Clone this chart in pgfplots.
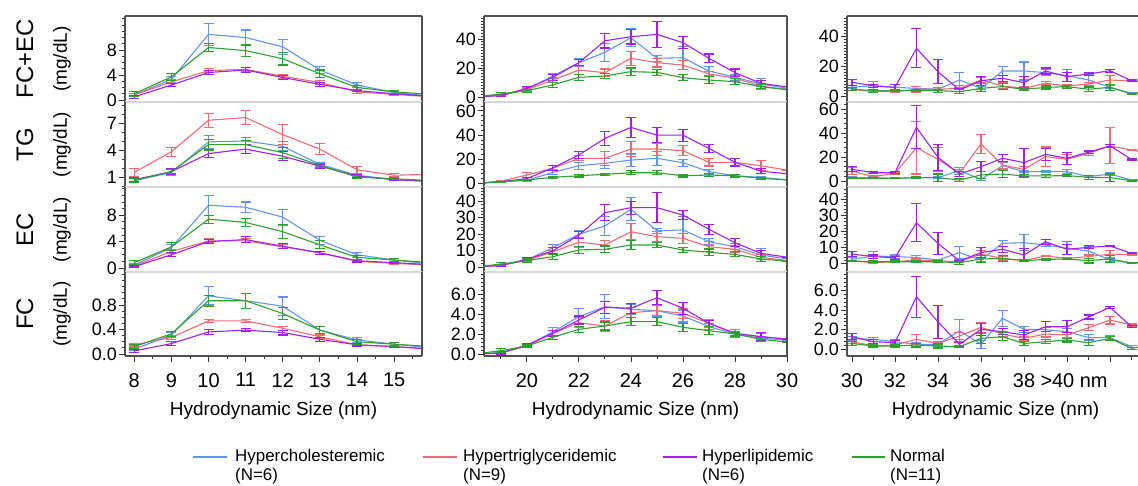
\documentclass[border=0pt]{standalone}
\usepackage{pgfplots}
\pgfplotsset{compat=1.18}
\usepackage{pgfplotstable}
\usepackage{fontspec}
\setmainfont{Liberation Sans}

\definecolor{cB}{RGB}{100,149,237}
\definecolor{cR}{RGB}{236,108,118}
\definecolor{cP}{RGB}{160,32,240}
\definecolor{cG}{RGB}{46,160,46}
\definecolor{spine}{RGB}{80,80,80}
\definecolor{sepc}{RGB}{215,215,215}

% ---------- column 1 (8-15 nm) ----------
\pgfplotstableread{
x b be r re p pe g ge
8 0.8 0.3 0.8 0.2 0.5 0.2 1.0 0.4
9 3.3 0.5 2.9 0.3 2.4 0.3 3.7 0.6
10 10.5 1.8 4.7 0.3 4.4 0.3 8.4 0.7
11 10.0 1.2 4.9 0.3 4.8 0.4 7.9 0.9
12 8.5 1.2 3.8 0.3 3.6 0.3 6.6 1.0
13 4.8 0.5 2.8 0.3 2.5 0.3 4.2 0.6
14 2.4 0.4 1.3 0.2 1.5 0.2 2.0 0.3
15 1.2 0.2 0.9 0.1 1.0 0.1 1.3 0.2
16 0.6 0 0.5 0 0.6 0 0.9 0
}\TAone
\pgfplotstableread{
x b be r re p pe g ge
8 0.6 0.2 1.5 0.4 0.7 0.2 0.6 0.2
9 1.5 0.3 3.8 0.5 1.6 0.3 1.6 0.2
10 4.9 0.7 7.3 0.8 3.6 0.4 4.6 0.6
11 5.0 0.4 7.6 0.8 4.1 0.5 4.6 0.5
12 4.4 0.5 5.7 1.1 3.3 0.5 3.7 0.6
13 2.4 0.2 4.1 0.6 2.2 0.2 2.3 0.2
14 1.2 0.2 1.8 0.4 1.1 0.2 1.0 0.2
15 0.7 0.1 1.2 0.2 0.7 0.1 0.8 0.1
16 0.5 0 1.3 0 0.5 0 0.6 0
}\TAtwo
\pgfplotstableread{
x b be r re p pe g ge
8 0.45 0.2 0.3 0.1 0.2 0.1 0.8 0.3
9 3.1 0.5 2.5 0.3 2.0 0.3 3.2 0.6
10 9.5 1.5 4.1 0.3 4.0 0.3 7.4 0.6
11 9.2 0.8 4.1 0.3 4.3 0.5 6.9 0.6
12 7.7 1.2 3.2 0.3 3.3 0.4 5.5 1.1
13 4.2 0.6 2.3 0.2 2.3 0.2 3.5 0.6
14 2.0 0.4 1.0 0.2 1.1 0.2 1.6 0.3
15 1.2 0.2 0.7 0.1 0.8 0.1 1.2 0.2
16 0.6 0 0.4 0 0.5 0 0.8 0
}\TAthree
\pgfplotstableread{
x b be r re p pe g ge
8 0.08 0.02 0.15 0.02 0.05 0.02 0.12 0.03
9 0.31 0.04 0.27 0.03 0.17 0.03 0.33 0.04
10 0.95 0.15 0.54 0.03 0.36 0.04 0.87 0.09
11 0.87 0.12 0.54 0.03 0.39 0.03 0.87 0.12
12 0.78 0.15 0.42 0.03 0.35 0.04 0.66 0.10
13 0.39 0.06 0.28 0.03 0.24 0.03 0.39 0.06
14 0.23 0.04 0.15 0.02 0.15 0.02 0.20 0.04
15 0.16 0.03 0.12 0.02 0.12 0.02 0.16 0.03
16 0.10 0 0.08 0 0.08 0 0.12 0
}\TAfour

% ---------- column 2 (19-30 nm) ----------
\pgfplotstableread{
x b be r re p pe g ge
18 0 0 0 0 0 0 0 0
19 1.4 0.5 1.0 0.5 1.0 0.5 2.1 1.0
20 5.3 1 5.0 1 6.0 1 4.4 1
21 14.5 2 11.7 1.5 13.6 2 8.3 1.5
22 23.7 2.5 18.6 3 23.7 2 13.6 2
23 30.8 6 16.8 2.5 38.8 5 14.5 2
24 40.9 6 26.7 5 41.6 5 17.5 2.5
25 26.7 2 23.7 3 43.2 9 17.0 2
26 27.1 8 22.0 3 37.5 4 13.3 2
27 17.9 3 15.9 2 26.7 3 11.7 2.5
28 13.6 2 12.9 2 16.8 2.5 10.6 2
29 9.0 3.5 7.6 1.5 9.4 2 7.1 1.5
30 6 0 5 0 7 0 5 0
}\TBone
\pgfplotstableread{
x b be r re p pe g ge
18 0 0 0 0 0 0 0 0
19 1.5 0.5 1.9 0.5 1.5 0.5 1.5 0.5
20 2.6 1 7.0 2 4.0 1 2.9 0.5
21 9.2 2 12.6 2 13.0 2 5.1 1
22 14.7 3 20.8 2 23.6 3 6.4 1
23 16.7 4 20.8 6 37.3 6 7.6 1
24 19.4 5 28.5 6 46.4 8 8.9 1.5
25 20.8 6 28.5 5 40.0 6 8.9 1.5
26 17.2 3 27.1 4 40.0 5 6.4 1
27 9.8 2 17.5 3 29.0 3 7.0 1
28 6.4 1 17.5 3 17.5 3 6.4 1
29 5.0 1 14.7 4 10.3 2 4.3 1
30 3 0 11 0 8 0 3 0
}\TBtwo
\pgfplotstableread{
x b be r re p pe g ge
18 0 0 0 0 0 0 0 0
19 1.0 0.5 1.0 0.5 1.0 0.5 1.8 1
20 4.3 1 4.0 1 4.7 1 3.9 1
21 11.8 2 9.3 1 9.9 2 6.3 1.5
22 20.0 2 15.1 3 19.5 2 10.4 2
23 25.0 6 13.4 3 33.1 5 10.8 2
24 35.2 7 21.5 5 36.2 4 13.4 2.5
25 22.1 1.5 18.5 3 36.2 9 13.4 1.5
26 22.6 8 17.5 3 31.7 3 10.4 1.5
27 15.4 2 12.4 3 23.0 3 9.0 2
28 12.4 2 10.8 2 14.8 2.5 7.7 1.5
29 7.3 4 5.9 1.5 8.3 2 4.9 1.5
30 5 0 4 0 6 0 3.5 0
}\TBthree
\pgfplotstableread{
x b be r re p pe g ge
18 0 0 0 0 0 0 0 0
19 0.13 0.1 0.1 0.1 0.1 0.1 0.33 0.2
20 0.8 0.1 0.8 0.1 0.9 0.1 0.8 0.1
21 2.23 0.4 2.07 0.3 2.07 0.3 1.67 0.2
22 3.73 0.8 3.13 0.5 3.4 0.4 2.47 0.3
23 4.73 1.2 2.8 0.5 4.67 0.6 2.8 0.4
24 4.47 0.5 4.13 0.5 4.57 0.5 3.23 0.4
25 4.33 0.6 4.33 0.5 5.63 0.7 3.23 0.4
26 3.8 0.6 4.07 0.5 4.57 0.6 2.67 0.4
27 2.73 0.3 3.07 0.4 3.07 0.3 2.33 0.4
28 2.0 0.2 2.07 0.4 2.07 0.2 2.0 0.2
29 1.57 0.2 1.73 0.3 1.73 0.4 1.47 0.2
30 1.4 0 1.5 0 1.5 0 1.2 0
}\TBfour

% ---------- column 3 (30->40 nm) ----------
\pgfplotstableread{
x b be r re p pe g ge
30 6.1 1 4.8 1 9.5 2 4.8 1
31 7.2 3 3.2 0.5 7.0 1 3.9 1
32 6.1 2 3.2 0.5 6.1 2 3.9 0.5
33 5.4 1 4.8 2 32.1 13 3.9 0.5
34 4.8 1 4.8 1 16.5 8 3.9 1
35 11.0 5 5.4 2 4.3 1 3.2 1.5
36 5.4 1 11.0 2 10.5 3 5.4 2
37 17.0 3 7.0 2 12.1 2 6.6 2
38 17.0 6 5.4 1 9.2 4 4.8 1
39 15.9 2 8.8 1 17.0 2 6.0 1
40 13.9 4 7.0 1 13.2 3 6.6 1
41 11.0 4 8.3 1 15.0 1 4.8 1.5
42 6.1 1 11.0 3 17.2 1 6.1 2
43 2.0 0.3 10.3 0.3 10.5 0.5 1.7 0.3
44 nan nan 9.2 0 nan nan 4.0 0
}\TCone
\pgfplotstableread{
x b be r re p pe g ge
30 2.8 0.5 8.3 3 9.7 2 2.2 0.5
31 2.8 0.5 3.6 1 6.9 1 2.2 0.5
32 2.2 0.5 6.4 1 6.9 1 2.2 0.5
33 2.8 0.5 27.8 22 44.7 18 2.8 0.5
34 2.8 1 18.0 10 19.7 11 2.8 3
35 8.6 3 6.4 3 5.8 2 0.8 1
36 1.4 1 30.8 8 11.9 4 5.0 3
37 12.8 3 13.3 3 18.9 3 5.8 3
38 7.8 1 9.7 2 15.3 12 4.2 1
39 7.8 1 20.3 8 22.2 5 4.2 1
40 7.8 2 18.0 4 18.9 5 4.5 1
41 3.6 1 23.1 2 24.0 1 3.0 1.5
42 5.8 1 29.2 15 29.2 1 2.8 3
43 0.8 0.3 25.8 0.5 18.0 0.5 0.3 0.3
44 nan nan 22.5 0 nan nan 2.2 0
}\TCtwo
\pgfplotstableread{
x b be r re p pe g ge
30 2.6 1 1.6 0.5 5.9 1.5 1.6 0.5
31 4.7 3 0.5 0.5 4.3 1 1.1 0.5
32 4.3 1 1.1 0.5 3.6 1 1.1 0.5
33 3.8 1 2.2 1 25.5 12 1.1 0.5
34 2.2 0.5 1.6 0.5 12.6 7 1.1 0.5
35 6.8 4 1.1 0.5 1.6 0.5 0.5 1
36 2.2 1 5.9 2 6.8 3 2.8 2
37 12.6 2 3.2 1 8.9 2 3.2 2
38 13.0 5 1.8 0.5 5.3 4 1.8 0.5
39 11.6 1 4.7 0.5 13.6 1.5 2.6 0.5
40 9.5 4 3.2 0.5 8.9 3 2.8 0.5
41 7.8 3 4.3 1 10.1 1 1.8 1.5
42 2.2 1 5.9 2 10.9 0.5 2.8 2
43 0.5 0.3 5.6 0.3 6.4 0.3 0.2 0.3
44 nan nan 4.7 0 nan nan 1.6 0
}\TCthree
\pgfplotstableread{
x b be r re p pe g ge
30 1.12 0.2 0.78 0.2 1.29 0.3 0.6 0.2
31 1.02 0.2 0.34 0.1 0.78 0.2 0.34 0.1
32 0.78 0.2 0.44 0.1 0.68 0.2 0.34 0.1
33 0.51 0.2 1.02 0.5 5.37 2.1 0.44 0.2
34 0.51 0.2 0.6 0.2 2.8 1.7 0.34 0.2
35 1.9 1.1 1.36 0.4 0.51 0.2 0.27 0.1
36 0.51 0.4 2.24 0.5 2.04 0.6 1.12 0.5
37 3.16 0.8 1.56 0.3 1.8 0.3 1.29 0.4
38 2.04 0.3 1.12 0.2 1.46 0.5 0.6 0.2
39 2.0 0.2 1.56 0.3 2.3 0.5 0.78 0.2
40 1.8 0.3 1.46 0.3 2.3 0.6 0.95 0.2
41 1.2 0.3 2.2 0.3 3.3 0.2 0.68 0.3
42 1.2 0.2 2.99 0.4 4.29 0.1 1.12 0.2
43 0.27 0.1 2.48 0.1 2.3 0.1 0.1 0.1
44 nan nan 2.4 0 nan nan 0.5 0
}\TCfour

\pgfplotsset{
  panel/.style={
    scale only axis,
    axis line style={draw=none},
    tick align=outside, tick pos=left,
    major tick length=6bp, minor tick length=3.5bp,
    every tick/.append style={black!80, line width=0.9bp},
    yticklabel style={font=\fontsize{18}{18}\selectfont, inner sep=0pt, xshift=-2bp},
    xticklabel style={font=\fontsize{20}{20}\selectfont, inner sep=0pt, yshift=-11bp},
    xlabel style={font=\fontsize{19}{19}\selectfont, at={(axis description cs:0.5,-0.65)}, anchor=center},
    unbounded coords=discard,
  },
  fr/.style n args={2}{extra description/.append code={
    \draw[#1, line width=2bp] (axis description cs:0,1) -- (axis description cs:1,1);
    \draw[#2, line width=2bp] (axis description cs:0,0) -- (axis description cs:1,0);
    \draw[spine, line width=1.6bp] (axis description cs:0,0) -- (axis description cs:0,1);
    \draw[spine, line width=1.6bp] (axis description cs:1,0) -- (axis description cs:1,1);
  }},
  rl/.style n args={2}{extra description/.append code={
    \node[rotate=90, font=\fontsize{24}{24}\selectfont, anchor=center] at (axis description cs:-0.337,0.5) {#1};
    \node[rotate=90, font=\fontsize{19}{19}\selectfont, anchor=center] at (axis description cs:-0.212,0.5) {#2};
  }},
  ser/.style={color=#1, line width=1.1bp, mark=none,
    error bars/y dir=both, error bars/y explicit,
    error bars/error bar style={line width=1.1bp},
    error bars/error mark options={rotate=90, mark size=5bp, line width=1.1bp, #1}},
  colA/.style={at={(125bp,#1)}, anchor=north west, width=297bp, xmin=7.75, xmax=15.75},
  colB/.style={at={(484bp,#1)}, anchor=north west, width=303bp, xmin=18.35, xmax=30},
  colC/.style={at={(847bp,#1)}, anchor=north west, width=297bp, xmin=29.77, xmax=43.58},
  noX/.style={xtick=\empty},
  % legend entry: colour, line start, line end, text x, first line, second line
  lg/.style n args={6}{extra description/.append code={
    \draw[color=#1, line width=1.1bp] (axis description cs:#2,-1.2024) -- (axis description cs:#3,-1.2024);
    \node[anchor=north west, inner sep=0pt, text=black, align=left,
      font=\fontsize{17}{19}\selectfont]
      at (axis description cs:#4,-1.107) {#5\\#6};
  }},
}
\newcommand\four[1]{%
  \addplot[ser=cB] table[x=x,y=b,y error=be]{#1};
  \addplot[ser=cR] table[x=x,y=r,y error=re]{#1};
  \addplot[ser=cP] table[x=x,y=p,y error=pe]{#1};
  \addplot[ser=cG] table[x=x,y=g,y error=ge]{#1};}

\begin{document}
\begin{tikzpicture}
% ===== column 1 =====
\begin{axis}[panel, colA=470bp, height=86bp, noX, fr={spine}{sepc}, rl={FC+EC}{(mg/dL)},
  ymin=-0.32, ymax=13.44, ytick={0,4,8}, yticklabels={0,4,8}, minor ytick={1,2,...,13}]
\four{\TAone}
\end{axis}
\begin{axis}[panel, colA=384bp, height=85bp, noX, fr={sepc}{sepc}, rl={TG}{(mg/dL)},
  ymin=-0.11, ymax=9.33, ytick={1,4,7}, yticklabels={1,4,7}, minor ytick={0,1,...,9}]
\four{\TAtwo}
\end{axis}
\begin{axis}[panel, colA=299bp, height=85bp, noX, fr={sepc}{sepc}, rl={EC}{(mg/dL)},
  ymin=-0.61, ymax=12.27, ytick={0,4,8}, yticklabels={0,4,8}, minor ytick={1,2,...,12}]
\four{\TAthree}
\end{axis}
\begin{axis}[panel, colA=214bp, height=84bp, fr={sepc}{spine}, rl={FC}{(mg/dL)},
  ymin=-0.033, ymax=1.339, ytick={0,0.4,0.8}, yticklabels={0.0,0.4,0.8}, minor ytick={0.1,0.2,...,1.3},
  xtick={8,...,15}, xticklabels={8,9,10,11,12,13,14,15}, minor xtick={8.5,9.5,...,15.5},
  xlabel={Hydrodynamic Size (nm)},
  lg={cB}{0.2290}{0.3434}{0.3704}{Hypercholesteremic}{(N=6)},
  lg={cR}{1.0034}{1.1178}{1.1380}{Hypertriglyceridemic}{(N=9)},
  lg={cP}{1.8114}{1.9259}{1.9428}{Hyperlipidemic}{(N=6)},
  lg={cG}{2.4478}{2.5589}{2.5758}{Normal}{(N=11)}]
\four{\TAfour}
\end{axis}
% ===== column 2 =====
\begin{axis}[panel, colB=470bp, height=86bp, noX, fr={spine}{sepc},
  ymin=-3.45, ymax=55.9, ytick={0,20,40}, yticklabels={0,20,40}, minor ytick={2,4,...,54}]
\four{\TBone}
\end{axis}
\begin{axis}[panel, colB=384bp, height=85bp, noX, fr={sepc}{sepc},
  ymin=-2.9, ymax=67.4, ytick={0,20,40,60}, yticklabels={0,20,40,60}, minor ytick={4,8,...,64}]
\four{\TBtwo}
\end{axis}
\begin{axis}[panel, colB=299bp, height=85bp, noX, fr={sepc}{sepc},
  ymin=-3.05, ymax=48.8, ytick={0,10,20,30,40}, yticklabels={0,10,20,30,40}, minor ytick={2,4,...,48}]
\four{\TBthree}
\end{axis}
\begin{axis}[panel, colB=214bp, height=84bp, fr={sepc}{spine},
  ymin=-0.2, ymax=8.2, ytick={0,2,4,6}, yticklabels={0.0,2.0,4.0,6.0}, minor ytick={0.4,0.8,...,8.0},
  xtick={20,22,...,30}, xticklabels={20,22,24,26,28,30}, minor xtick={19,21,...,29},
  xlabel={Hydrodynamic Size (nm)}]
\four{\TBfour}
\end{axis}
% ===== column 3 =====
\begin{axis}[panel, colC=470bp, height=86bp, noX, fr={spine}{sepc},
  ymin=-3.7, ymax=53.7, ytick={0,20,40}, yticklabels={0,20,40}, minor ytick={2,4,...,52}]
\four{\TCone}
\end{axis}
\begin{axis}[panel, colC=384bp, height=85bp, noX, fr={sepc}{sepc},
  ymin=-5, ymax=65.8, ytick={0,20,40,60}, yticklabels={0,20,40,60}, minor ytick={4,8,...,64}]
\four{\TCtwo}
\end{axis}
\begin{axis}[panel, colC=299bp, height=85bp, noX, fr={sepc}{sepc},
  ymin=-5.3, ymax=47.8, ytick={0,10,20,30,40}, yticklabels={0,10,20,30,40}, minor ytick={2,4,...,46}]
\four{\TCthree}
\end{axis}
\begin{axis}[panel, colC=214bp, height=84bp, fr={sepc}{spine},
  ymin=-0.68, ymax=7.89, ytick={0,2,4,6}, yticklabels={0.0,2.0,4.0,6.0}, minor ytick={0.4,0.8,...,7.6},
  xtick={30,32,...,42}, xticklabels={30,32,34,36,38,{\hspace*{14bp}>40 nm},{}}, minor xtick={31,33,...,43},
  xlabel={Hydrodynamic Size (nm)}]
\four{\TCfour}
\end{axis}
\pgfresetboundingbox
\useasboundingbox (0,0) rectangle (1138bp,486bp);
\end{tikzpicture}
\end{document}
